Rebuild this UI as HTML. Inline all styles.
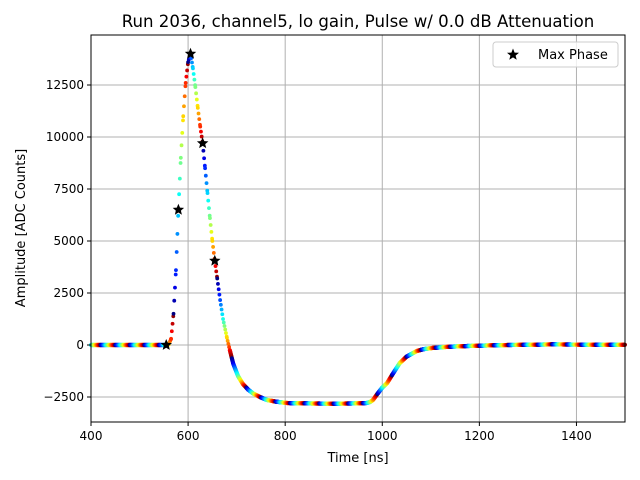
<!DOCTYPE html>
<html><head><meta charset="utf-8"><style>
body{margin:0;background:#fff;}
svg{display:block;font-family:"DejaVu Sans","Liberation Sans",sans-serif;}
</style></head><body>
<svg id="chart" width="640" height="480" viewBox="0 0 640 480" xmlns="http://www.w3.org/2000/svg">
<rect x="0" y="0" width="640" height="480" fill="#fff"/>
<text x="358" y="27" font-size="16.6" text-anchor="middle">Run 2036, channel5, lo gain, Pulse w/ 0.0 dB Attenuation</text>
<g id="grid"></g>
<g id="series"></g>
<g id="stars"></g>
<rect x="91" y="35" width="534" height="387" fill="none" stroke="#000" stroke-width="1"/>
<g id="ticks" font-size="12"></g>
<text x="358" y="462" font-size="13" text-anchor="middle">Time [ns]</text>
<text transform="translate(25,228) rotate(-90)" font-size="13" text-anchor="middle">Amplitude [ADC Counts]</text>
<g>
<rect x="493" y="42" width="125" height="25" rx="3" fill="#fff" fill-opacity="0.8" stroke="#ccc"/>
<polygon points="513,48.5 514.6,52.6 519,52.8 515.6,55.6 516.7,59.8 513,57.4 509.3,59.8 510.4,55.6 507,52.8 511.4,52.6" fill="#000"/>
<text x="538" y="59" font-size="13">Max Phase</text>
</g>
</svg>
<script>
const times=[400,420,440,460,480,500,520,540,555,560,565,570,575,580,585,590,595,600,605,610,615,620,625,630,635,640,645,650,655,660,666,672,680,686,693,703,713,724,734,748,762,780,804,850,900,940,968,975,981,990,1000,1010,1020,1036,1050,1071,1085,1104,1140,1174,1220,1260,1300,1350,1400,1450,1500];
const amps=[0,0,0,0,0,0,0,0,0,30,300,1500,3600,6500,9000,11000,12600,13600,14000,13300,12400,11400,10500,9700,8500,7300,6100,5000,4050,3200,2160,1250,350,-250,-900,-1500,-1880,-2150,-2330,-2500,-2640,-2720,-2790,-2810,-2820,-2810,-2790,-2740,-2640,-2350,-2050,-1830,-1450,-870,-560,-290,-200,-140,-80,-50,-20,0,10,30,20,10,10];
const starTimes=[555,580,605,630,655];
const starVals=[0,6500,14000,9700,4050];
const xTicks=[400,600,800,1000,1200,1400];
const yTicks=[-2500,0,2500,5000,7500,10000,12500];
const NS="http://www.w3.org/2000/svg";
const X0=91,X1=625,Y0=35,Y1=422;
const xmin=400,xmax=1500;
function xs(t){return X0+(t-xmin)/(xmax-xmin)*(X1-X0);}
function ys(v){return 345-v*52/2500;}
function jet(x){const c=v=>Math.round(255*Math.max(0,Math.min(1,v)));return `rgb(${c(1.5-Math.abs(4*x-3))},${c(1.5-Math.abs(4*x-2))},${c(1.5-Math.abs(4*x-1))})`;}
const grid=document.getElementById('grid'),ticks=document.getElementById('ticks');
xTicks.forEach(t=>{
 const l=document.createElementNS(NS,'line');
 l.setAttribute('x1',xs(t));l.setAttribute('x2',xs(t));l.setAttribute('y1',Y0);l.setAttribute('y2',Y1);
 l.setAttribute('stroke','#b0b0b0');l.setAttribute('stroke-width','1');
 
 
 grid.appendChild(l);
 const tk=document.createElementNS(NS,'line');
 tk.setAttribute('x1',xs(t));tk.setAttribute('x2',xs(t));tk.setAttribute('y1',Y1);tk.setAttribute('y2',Y1+4);tk.setAttribute('stroke','#000');
 
 
 ticks.appendChild(tk);
 const tx=document.createElementNS(NS,'text');
 tx.setAttribute('x',xs(t));tx.setAttribute('y',Y1+18);tx.setAttribute('text-anchor','middle');tx.textContent=t;
 
 
 ticks.appendChild(tx);
});
yTicks.forEach(v=>{
 const l=document.createElementNS(NS,'line');
 l.setAttribute('x1',X0);l.setAttribute('x2',X1);l.setAttribute('y1',ys(v));l.setAttribute('y2',ys(v));
 l.setAttribute('stroke','#b0b0b0');l.setAttribute('stroke-width','1');
 
 
 grid.appendChild(l);
 const tk=document.createElementNS(NS,'line');
 tk.setAttribute('x1',X0-4);tk.setAttribute('x2',X0);tk.setAttribute('y1',ys(v));tk.setAttribute('y2',ys(v));tk.setAttribute('stroke','#000');
 
 
 ticks.appendChild(tk);
 const tx=document.createElementNS(NS,'text');
 tx.setAttribute('x',X0-7);tx.setAttribute('y',ys(v)+4);tx.setAttribute('text-anchor','end');tx.textContent=(v<0?'\u2212'+(-v):v);
 
 
 ticks.appendChild(tx);
});
const series=document.getElementById('series');
for(let i=0;i<times.length-1;i++){
 const t0=times[i],t1=times[i+1],a0=amps[i],a1=amps[i+1];
 const fast=(t0>=560&&t1<=690);
 const step=fast?1.5:0.6;
 for(let t=t0;t<t1;t+=step){
  const f=(t-t0)/(t1-t0);
  const v=a0+(a1-a0)*f;
  const c=document.createElementNS(NS,'circle');
  c.setAttribute('cx',xs(t));c.setAttribute('cy',ys(v));c.setAttribute('r',fast?1.9:2.1);
  c.setAttribute('fill',jet(((t%30)+30)%30/30));
  
  
  series.appendChild(c);
 }
}
const stars=document.getElementById('stars');
function starPts(cx,cy,R){const p=[];for(let k=0;k<10;k++){const r=k%2?R*0.45:R;const a=-Math.PI/2+k*Math.PI/5;p.push((cx+r*Math.cos(a)).toFixed(1)+','+(cy+r*Math.sin(a)).toFixed(1));}return p.join(' ');}
starTimes.forEach((t,i)=>{
 const s=document.createElementNS(NS,'polygon');
 s.setAttribute('points',starPts(xs(t),ys(starVals[i]),6));
 s.setAttribute('fill','#000');
 
 
 stars.appendChild(s);
});
</script>
</body></html>
